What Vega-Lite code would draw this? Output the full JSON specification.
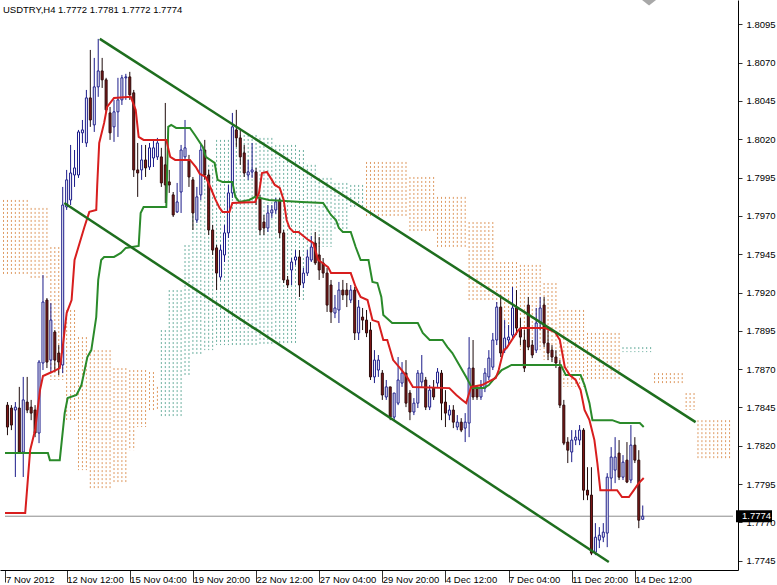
{
"$schema":"https://vega.github.io/schema/vega-lite/v6.json",
"width":738,"height":570,
"autosize":{"type":"none"},
"padding":{"left":0,"top":0,"right":39,"bottom":15},
"background":"white",
"config":{"view":{"stroke":null},"font":"Liberation Sans",
 "axisX":{"grid":false,"domainColor":"black","domainWidth":1,"tickColor":"#333333","tickSize":12,"labelAlign":"left","labelBaseline":"middle","labelPadding":-2.5,"labelDx":2,"labelFontSize":9.5,"labelFont":"Liberation Sans","labelColor":"black","labelFlush":false,"labelOverlap":false,"labelBound":false},
 "axisY":{"grid":false,"domainColor":"black","domainWidth":1,"tickColor":"#333333","tickSize":4,"labelPadding":4,"labelFontSize":9.5,"labelFont":"Liberation Sans","labelColor":"black","labelOverlap":false,"labelBound":false,"labelFlush":false}},
"title":{"text":"USDTRY,H4  1.7772 1.7781 1.7772 1.7774","anchor":"start","frame":"group","offset":-14,"fontSize":9.5,"fontWeight":"normal","font":"Liberation Sans","color":"black","dx":3},
"datasets":{
"candles":[
{"t":0,"o":1.78465,"h":1.78485,"l":1.78269,"c":1.78322},
{"t":1,"o":1.78446,"h":1.78465,"l":1.78302,"c":1.78335},
{"t":2,"o":1.78433,"h":1.78485,"l":1.77996,"c":1.78452},
{"t":3,"o":1.78446,"h":1.78584,"l":1.78152,"c":1.78159},
{"t":4,"o":1.78159,"h":1.78649,"l":1.77996,"c":1.78499},
{"t":5,"o":1.78485,"h":1.78649,"l":1.78413,"c":1.78433},
{"t":6,"o":1.78452,"h":1.78499,"l":1.78367,"c":1.78413},
{"t":7,"o":1.78433,"h":1.78465,"l":1.78256,"c":1.78283},
{"t":8,"o":1.78283,"h":1.78759,"l":1.78217,"c":1.78746},
{"t":9,"o":1.78740,"h":1.79314,"l":1.78694,"c":1.79138},
{"t":10,"o":1.79151,"h":1.79164,"l":1.78707,"c":1.78746},
{"t":11,"o":1.78759,"h":1.79131,"l":1.78681,"c":1.79020},
{"t":12,"o":1.78942,"h":1.78955,"l":1.78681,"c":1.78759},
{"t":13,"o":1.78805,"h":1.78857,"l":1.78661,"c":1.78746},
{"t":14,"o":1.78727,"h":1.79889,"l":1.78674,"c":1.79771},
{"t":15,"o":1.79758,"h":1.80000,"l":1.79739,"c":1.79935},
{"t":16,"o":1.79804,"h":1.80163,"l":1.79771,"c":1.79980},
{"t":17,"o":1.79967,"h":1.80130,"l":1.79889,"c":1.80013},
{"t":18,"o":1.79967,"h":1.80261,"l":1.79948,"c":1.80248},
{"t":19,"o":1.80242,"h":1.80326,"l":1.80176,"c":1.80261},
{"t":20,"o":1.80176,"h":1.80522,"l":1.80150,"c":1.80470},
{"t":21,"o":1.80470,"h":1.80783,"l":1.80281,"c":1.80326},
{"t":22,"o":1.80294,"h":1.80731,"l":1.80248,"c":1.80542},
{"t":23,"o":1.80542,"h":1.80855,"l":1.80477,"c":1.80646},
{"t":24,"o":1.80646,"h":1.80731,"l":1.80535,"c":1.80588},
{"t":25,"o":1.80588,"h":1.80601,"l":1.80372,"c":1.80392},
{"t":26,"o":1.80372,"h":1.80411,"l":1.80196,"c":1.80242},
{"t":27,"o":1.80281,"h":1.80457,"l":1.80183,"c":1.80379},
{"t":28,"o":1.80379,"h":1.80601,"l":1.80215,"c":1.80457},
{"t":29,"o":1.80457,"h":1.80620,"l":1.80424,"c":1.80601},
{"t":30,"o":1.80601,"h":1.80627,"l":1.80457,"c":1.80607},
{"t":31,"o":1.80607,"h":1.80640,"l":1.80457,"c":1.80490},
{"t":32,"o":1.80503,"h":1.80522,"l":1.79954,"c":1.80000},
{"t":33,"o":1.80000,"h":1.80176,"l":1.79824,"c":1.79980},
{"t":34,"o":1.80000,"h":1.80163,"l":1.79935,"c":1.80065},
{"t":35,"o":1.80065,"h":1.80163,"l":1.79954,"c":1.80013},
{"t":36,"o":1.80019,"h":1.80176,"l":1.80000,"c":1.80144},
{"t":37,"o":1.80078,"h":1.80196,"l":1.80019,"c":1.80144},
{"t":38,"o":1.80085,"h":1.80209,"l":1.80065,"c":1.80176},
{"t":39,"o":1.80085,"h":1.80144,"l":1.79889,"c":1.79915},
{"t":40,"o":1.80033,"h":1.80437,"l":1.79784,"c":1.79902},
{"t":41,"o":1.79922,"h":1.80000,"l":1.79850,"c":1.79902},
{"t":42,"o":1.79837,"h":1.79856,"l":1.79693,"c":1.79706},
{"t":43,"o":1.79726,"h":1.79915,"l":1.79719,"c":1.79791},
{"t":44,"o":1.79856,"h":1.80163,"l":1.79719,"c":1.80130},
{"t":45,"o":1.80085,"h":1.80326,"l":1.80065,"c":1.80144},
{"t":46,"o":1.80065,"h":1.80098,"l":1.79889,"c":1.79954},
{"t":47,"o":1.79935,"h":1.79954,"l":1.79608,"c":1.79719},
{"t":48,"o":1.79673,"h":1.79889,"l":1.79654,"c":1.79824},
{"t":49,"o":1.79837,"h":1.80163,"l":1.79804,"c":1.80130},
{"t":50,"o":1.80130,"h":1.80196,"l":1.79935,"c":1.79967},
{"t":51,"o":1.79967,"h":1.80000,"l":1.79575,"c":1.79608},
{"t":52,"o":1.79608,"h":1.79641,"l":1.79445,"c":1.79477},
{"t":53,"o":1.79491,"h":1.79510,"l":1.79216,"c":1.79327},
{"t":54,"o":1.79301,"h":1.79510,"l":1.79282,"c":1.79477},
{"t":55,"o":1.79445,"h":1.79641,"l":1.79399,"c":1.79589},
{"t":56,"o":1.79589,"h":1.79902,"l":1.79556,"c":1.79850},
{"t":57,"o":1.79850,"h":1.80372,"l":1.79817,"c":1.80281},
{"t":58,"o":1.80261,"h":1.80392,"l":1.80150,"c":1.80209},
{"t":59,"o":1.80209,"h":1.80261,"l":1.80033,"c":1.80085},
{"t":60,"o":1.80111,"h":1.80163,"l":1.79954,"c":1.79980},
{"t":61,"o":1.79967,"h":1.80065,"l":1.79935,"c":1.79987},
{"t":62,"o":1.79987,"h":1.80176,"l":1.79948,"c":1.80000},
{"t":63,"o":1.79987,"h":1.80013,"l":1.79771,"c":1.79817},
{"t":64,"o":1.79817,"h":1.79837,"l":1.79575,"c":1.79608},
{"t":65,"o":1.79660,"h":1.79706,"l":1.79575,"c":1.79621},
{"t":66,"o":1.79621,"h":1.79771,"l":1.79595,"c":1.79719},
{"t":67,"o":1.79719,"h":1.79771,"l":1.79686,"c":1.79739},
{"t":68,"o":1.79739,"h":1.79817,"l":1.79713,"c":1.79791},
{"t":69,"o":1.79804,"h":1.79817,"l":1.79556,"c":1.79589},
{"t":70,"o":1.79589,"h":1.79608,"l":1.79262,"c":1.79282},
{"t":71,"o":1.79282,"h":1.79308,"l":1.79229,"c":1.79249},
{"t":72,"o":1.79347,"h":1.79425,"l":1.79249,"c":1.79399},
{"t":73,"o":1.79412,"h":1.79477,"l":1.79380,"c":1.79432},
{"t":74,"o":1.79432,"h":1.79477,"l":1.79171,"c":1.79249},
{"t":75,"o":1.79262,"h":1.79360,"l":1.79229,"c":1.79327},
{"t":76,"o":1.79327,"h":1.79477,"l":1.79308,"c":1.79432},
{"t":77,"o":1.79412,"h":1.79569,"l":1.79399,"c":1.79497},
{"t":78,"o":1.79523,"h":1.79595,"l":1.79380,"c":1.79393},
{"t":79,"o":1.79445,"h":1.79562,"l":1.79282,"c":1.79347},
{"t":80,"o":1.79393,"h":1.79425,"l":1.79295,"c":1.79327},
{"t":81,"o":1.79327,"h":1.79360,"l":1.79073,"c":1.79118},
{"t":82,"o":1.79249,"h":1.79282,"l":1.79001,"c":1.79073},
{"t":83,"o":1.79066,"h":1.79184,"l":1.79033,"c":1.79099},
{"t":84,"o":1.79086,"h":1.79269,"l":1.79001,"c":1.79216},
{"t":85,"o":1.79216,"h":1.79282,"l":1.79151,"c":1.79184},
{"t":86,"o":1.79216,"h":1.79262,"l":1.79105,"c":1.79184},
{"t":87,"o":1.79151,"h":1.79249,"l":1.79131,"c":1.79216},
{"t":88,"o":1.79216,"h":1.79236,"l":1.78890,"c":1.78936},
{"t":89,"o":1.78936,"h":1.79151,"l":1.78890,"c":1.79105},
{"t":90,"o":1.79040,"h":1.79099,"l":1.78955,"c":1.79020},
{"t":91,"o":1.79020,"h":1.79086,"l":1.78909,"c":1.78936},
{"t":92,"o":1.78955,"h":1.79007,"l":1.78629,"c":1.78649},
{"t":93,"o":1.78649,"h":1.78824,"l":1.78609,"c":1.78759},
{"t":94,"o":1.78694,"h":1.78792,"l":1.78649,"c":1.78759},
{"t":95,"o":1.78674,"h":1.78694,"l":1.78499,"c":1.78531},
{"t":96,"o":1.78518,"h":1.78629,"l":1.78499,"c":1.78584},
{"t":97,"o":1.78584,"h":1.78584,"l":1.78367,"c":1.78387},
{"t":98,"o":1.78387,"h":1.78544,"l":1.78367,"c":1.78544},
{"t":99,"o":1.78478,"h":1.78779,"l":1.78465,"c":1.78629},
{"t":100,"o":1.78609,"h":1.78746,"l":1.78584,"c":1.78674},
{"t":101,"o":1.78674,"h":1.78759,"l":1.78452,"c":1.78478},
{"t":102,"o":1.78544,"h":1.78563,"l":1.78367,"c":1.78420},
{"t":103,"o":1.78420,"h":1.78511,"l":1.78400,"c":1.78478},
{"t":104,"o":1.78478,"h":1.78694,"l":1.78446,"c":1.78674},
{"t":105,"o":1.78616,"h":1.78792,"l":1.78584,"c":1.78674},
{"t":106,"o":1.78629,"h":1.78649,"l":1.78433,"c":1.78452},
{"t":107,"o":1.78452,"h":1.78596,"l":1.78433,"c":1.78563},
{"t":108,"o":1.78576,"h":1.78629,"l":1.78499,"c":1.78518},
{"t":109,"o":1.78609,"h":1.78707,"l":1.78584,"c":1.78681},
{"t":110,"o":1.78674,"h":1.78694,"l":1.78367,"c":1.78478},
{"t":111,"o":1.78485,"h":1.78563,"l":1.78322,"c":1.78413},
{"t":112,"o":1.78400,"h":1.78465,"l":1.78367,"c":1.78433},
{"t":113,"o":1.78433,"h":1.78465,"l":1.78315,"c":1.78354},
{"t":114,"o":1.78322,"h":1.78400,"l":1.78302,"c":1.78354},
{"t":115,"o":1.78354,"h":1.78380,"l":1.78289,"c":1.78302},
{"t":116,"o":1.78315,"h":1.78413,"l":1.78224,"c":1.78354},
{"t":117,"o":1.78348,"h":1.78909,"l":1.78256,"c":1.78707},
{"t":118,"o":1.78707,"h":1.78890,"l":1.78499,"c":1.78518},
{"t":119,"o":1.78576,"h":1.78596,"l":1.78499,"c":1.78518},
{"t":120,"o":1.78518,"h":1.78629,"l":1.78499,"c":1.78584},
{"t":121,"o":1.78576,"h":1.78707,"l":1.78550,"c":1.78674},
{"t":122,"o":1.78649,"h":1.78824,"l":1.78629,"c":1.78772},
{"t":123,"o":1.78713,"h":1.78936,"l":1.78694,"c":1.78890},
{"t":124,"o":1.78890,"h":1.79138,"l":1.78857,"c":1.79105},
{"t":125,"o":1.79105,"h":1.79184,"l":1.78779,"c":1.78805},
{"t":126,"o":1.78824,"h":1.79020,"l":1.78805,"c":1.78903},
{"t":127,"o":1.78890,"h":1.78988,"l":1.78857,"c":1.78909},
{"t":128,"o":1.78922,"h":1.79236,"l":1.78903,"c":1.79099},
{"t":129,"o":1.79099,"h":1.79216,"l":1.78922,"c":1.78968},
{"t":130,"o":1.78968,"h":1.79033,"l":1.78857,"c":1.78909},
{"t":131,"o":1.78890,"h":1.78955,"l":1.78681,"c":1.78707},
{"t":132,"o":1.79118,"h":1.79171,"l":1.78824,"c":1.78844},
{"t":133,"o":1.78857,"h":1.78890,"l":1.78772,"c":1.78792},
{"t":134,"o":1.78824,"h":1.79099,"l":1.78805,"c":1.79001},
{"t":135,"o":1.79001,"h":1.79171,"l":1.78955,"c":1.79099},
{"t":136,"o":1.79118,"h":1.79171,"l":1.78844,"c":1.78870},
{"t":137,"o":1.78870,"h":1.78955,"l":1.78759,"c":1.78805},
{"t":138,"o":1.78824,"h":1.78857,"l":1.78746,"c":1.78779},
{"t":139,"o":1.78779,"h":1.78824,"l":1.78707,"c":1.78740},
{"t":140,"o":1.78713,"h":1.78759,"l":1.78446,"c":1.78465},
{"t":141,"o":1.78465,"h":1.78499,"l":1.78204,"c":1.78217},
{"t":142,"o":1.78224,"h":1.78256,"l":1.78087,"c":1.78171},
{"t":143,"o":1.78159,"h":1.78302,"l":1.78093,"c":1.78237},
{"t":144,"o":1.78237,"h":1.78302,"l":1.78204,"c":1.78256},
{"t":145,"o":1.78237,"h":1.78335,"l":1.78204,"c":1.78302},
{"t":146,"o":1.78302,"h":1.78315,"l":1.77845,"c":1.77910},
{"t":147,"o":1.77910,"h":1.78060,"l":1.77845,"c":1.77878},
{"t":148,"o":1.77878,"h":1.78060,"l":1.77486,"c":1.77499},
{"t":149,"o":1.77505,"h":1.77695,"l":1.77486,"c":1.77603},
{"t":150,"o":1.77584,"h":1.77669,"l":1.77532,"c":1.77616},
{"t":151,"o":1.77603,"h":1.77695,"l":1.77571,"c":1.77636},
{"t":152,"o":1.77630,"h":1.78021,"l":1.77538,"c":1.77995},
{"t":153,"o":1.77989,"h":1.78191,"l":1.77910,"c":1.78126},
{"t":154,"o":1.78041,"h":1.78256,"l":1.77956,"c":1.78126},
{"t":155,"o":1.78152,"h":1.78237,"l":1.77976,"c":1.77995},
{"t":156,"o":1.77995,"h":1.78139,"l":1.77976,"c":1.78093},
{"t":157,"o":1.78106,"h":1.78224,"l":1.77956,"c":1.77963},
{"t":158,"o":1.77976,"h":1.78335,"l":1.77956,"c":1.78204},
{"t":159,"o":1.78204,"h":1.78256,"l":1.78087,"c":1.78106},
{"t":160,"o":1.78106,"h":1.78171,"l":1.77662,"c":1.77714},
{"t":161,"o":1.7772,"h":1.7781,"l":1.7772,"c":1.7774}
],
"cloud":[
{"t":-1,"a":1.79804,"b":1.79321,"k":"o"},{"t":0,"a":1.79804,"b":1.79321,"k":"o"},{"t":1,"a":1.79804,"b":1.79321,"k":"o"},{"t":2,"a":1.79804,"b":1.79321,"k":"o"},{"t":3,"a":1.79804,"b":1.79321,"k":"o"},{"t":4,"a":1.79804,"b":1.79321,"k":"o"},{"t":5,"a":1.79804,"b":1.79321,"k":"o"},
{"t":6,"a":1.79752,"b":1.79295,"k":"o"},{"t":7,"a":1.79752,"b":1.79295,"k":"o"},{"t":8,"a":1.79752,"b":1.79295,"k":"o"},{"t":9,"a":1.79752,"b":1.79295,"k":"o"},{"t":10,"a":1.79752,"b":1.79295,"k":"o"},
{"t":11,"a":1.79497,"b":1.78629,"k":"o"},{"t":12,"a":1.79497,"b":1.78629,"k":"o"},{"t":13,"a":1.79497,"b":1.78629,"k":"o"},{"t":14,"a":1.79497,"b":1.78629,"k":"o"},
{"t":15,"a":1.79086,"b":1.78367,"k":"o"},{"t":16,"a":1.79086,"b":1.78367,"k":"o"},{"t":17,"a":1.79086,"b":1.78367,"k":"o"},
{"t":18,"a":1.78909,"b":1.78041,"k":"o"},{"t":19,"a":1.78909,"b":1.78041,"k":"o"},{"t":20,"a":1.78909,"b":1.78041,"k":"o"},
{"t":21,"a":1.78824,"b":1.77923,"k":"o"},{"t":22,"a":1.78824,"b":1.77923,"k":"o"},{"t":23,"a":1.78824,"b":1.77923,"k":"o"},{"t":24,"a":1.78824,"b":1.77923,"k":"o"},{"t":25,"a":1.78824,"b":1.77923,"k":"o"},{"t":26,"a":1.78824,"b":1.77923,"k":"o"},
{"t":27,"a":1.78707,"b":1.77956,"k":"o"},{"t":28,"a":1.78707,"b":1.77956,"k":"o"},{"t":29,"a":1.78707,"b":1.77956,"k":"o"},{"t":30,"a":1.78707,"b":1.77956,"k":"o"},
{"t":31,"a":1.78694,"b":1.78171,"k":"o"},{"t":32,"a":1.78694,"b":1.78171,"k":"o"},
{"t":33,"a":1.78694,"b":1.78322,"k":"o"},{"t":34,"a":1.78694,"b":1.78322,"k":"o"},{"t":35,"a":1.78694,"b":1.78322,"k":"o"},
{"t":36,"a":1.78681,"b":1.78420,"k":"o"},{"t":37,"a":1.78681,"b":1.78420,"k":"o"},
{"t":38,"a":1.78584,"b":1.78433,"k":"o"},
{"t":39,"a":1.78955,"b":1.78387,"k":"g"},{"t":40,"a":1.78955,"b":1.78387,"k":"g"},
{"t":41,"a":1.79216,"b":1.78387,"k":"g"},{"t":42,"a":1.79216,"b":1.78387,"k":"g"},{"t":43,"a":1.79216,"b":1.78387,"k":"g"},{"t":44,"a":1.79216,"b":1.78387,"k":"g"},
{"t":45,"a":1.79510,"b":1.78661,"k":"g"},{"t":46,"a":1.79510,"b":1.78661,"k":"g"},
{"t":47,"a":1.79804,"b":1.78792,"k":"g"},{"t":48,"a":1.79804,"b":1.78792,"k":"g"},{"t":49,"a":1.79804,"b":1.78792,"k":"g"},
{"t":50,"a":1.80033,"b":1.78824,"k":"g"},{"t":51,"a":1.80033,"b":1.78824,"k":"g"},{"t":52,"a":1.80033,"b":1.78824,"k":"g"},
{"t":53,"a":1.80196,"b":1.78857,"k":"g"},{"t":54,"a":1.80196,"b":1.78857,"k":"g"},{"t":55,"a":1.80196,"b":1.78857,"k":"g"},{"t":56,"a":1.80196,"b":1.78857,"k":"g"},
{"t":57,"a":1.80228,"b":1.78857,"k":"g"},{"t":58,"a":1.80228,"b":1.78857,"k":"g"},{"t":59,"a":1.80228,"b":1.78857,"k":"g"},{"t":60,"a":1.80228,"b":1.78857,"k":"g"},{"t":61,"a":1.80228,"b":1.78857,"k":"g"},{"t":62,"a":1.80228,"b":1.78857,"k":"g"},{"t":63,"a":1.80228,"b":1.78857,"k":"g"},
{"t":64,"a":1.80209,"b":1.78857,"k":"g"},{"t":65,"a":1.80209,"b":1.78857,"k":"g"},{"t":66,"a":1.80209,"b":1.78857,"k":"g"},{"t":67,"a":1.80209,"b":1.78857,"k":"g"},
{"t":68,"a":1.80163,"b":1.78870,"k":"g"},{"t":69,"a":1.80163,"b":1.78870,"k":"g"},{"t":70,"a":1.80163,"b":1.78870,"k":"g"},{"t":71,"a":1.80163,"b":1.78870,"k":"g"},{"t":72,"a":1.80163,"b":1.78870,"k":"g"},{"t":73,"a":1.80163,"b":1.78870,"k":"g"},
{"t":74,"a":1.80130,"b":1.79151,"k":"g"},{"t":75,"a":1.80130,"b":1.79151,"k":"g"},
{"t":76,"a":1.80033,"b":1.79412,"k":"g"},{"t":77,"a":1.80033,"b":1.79412,"k":"g"},{"t":78,"a":1.80033,"b":1.79412,"k":"g"},
{"t":79,"a":1.79948,"b":1.79497,"k":"g"},{"t":80,"a":1.79948,"b":1.79497,"k":"g"},{"t":81,"a":1.79948,"b":1.79497,"k":"g"},{"t":82,"a":1.79948,"b":1.79497,"k":"g"},
{"t":83,"a":1.79915,"b":1.79608,"k":"g"},{"t":84,"a":1.79915,"b":1.79608,"k":"g"},{"t":85,"a":1.79915,"b":1.79608,"k":"g"},{"t":86,"a":1.79915,"b":1.79608,"k":"g"},
{"t":87,"a":1.79902,"b":1.79758,"k":"g"},{"t":88,"a":1.79902,"b":1.79758,"k":"g"},{"t":89,"a":1.79902,"b":1.79758,"k":"g"},{"t":90,"a":1.79902,"b":1.79758,"k":"g"},
{"t":91,"a":1.80052,"b":1.79693,"k":"o"},{"t":92,"a":1.80052,"b":1.79693,"k":"o"},{"t":93,"a":1.80052,"b":1.79693,"k":"o"},{"t":94,"a":1.80052,"b":1.79693,"k":"o"},{"t":95,"a":1.80052,"b":1.79693,"k":"o"},{"t":96,"a":1.80052,"b":1.79693,"k":"o"},{"t":97,"a":1.80052,"b":1.79693,"k":"o"},{"t":98,"a":1.80052,"b":1.79693,"k":"o"},{"t":99,"a":1.80052,"b":1.79693,"k":"o"},{"t":100,"a":1.80052,"b":1.79693,"k":"o"},{"t":101,"a":1.80052,"b":1.79693,"k":"o"},
{"t":102,"a":1.79954,"b":1.79589,"k":"o"},{"t":103,"a":1.79954,"b":1.79589,"k":"o"},{"t":104,"a":1.79954,"b":1.79589,"k":"o"},{"t":105,"a":1.79954,"b":1.79589,"k":"o"},{"t":106,"a":1.79954,"b":1.79589,"k":"o"},{"t":107,"a":1.79954,"b":1.79589,"k":"o"},{"t":108,"a":1.79954,"b":1.79589,"k":"o"},
{"t":109,"a":1.79824,"b":1.79497,"k":"o"},{"t":110,"a":1.79824,"b":1.79497,"k":"o"},{"t":111,"a":1.79824,"b":1.79497,"k":"o"},{"t":112,"a":1.79824,"b":1.79497,"k":"o"},{"t":113,"a":1.79824,"b":1.79497,"k":"o"},{"t":114,"a":1.79824,"b":1.79497,"k":"o"},{"t":115,"a":1.79824,"b":1.79497,"k":"o"},{"t":116,"a":1.79824,"b":1.79497,"k":"o"},
{"t":117,"a":1.79660,"b":1.79151,"k":"o"},{"t":118,"a":1.79660,"b":1.79151,"k":"o"},{"t":119,"a":1.79660,"b":1.79151,"k":"o"},{"t":120,"a":1.79660,"b":1.79151,"k":"o"},{"t":121,"a":1.79660,"b":1.79151,"k":"o"},{"t":122,"a":1.79660,"b":1.79151,"k":"o"},{"t":123,"a":1.79660,"b":1.79151,"k":"o"},
{"t":124,"a":1.79399,"b":1.78955,"k":"o"},{"t":125,"a":1.79399,"b":1.78955,"k":"o"},{"t":126,"a":1.79399,"b":1.78955,"k":"o"},{"t":127,"a":1.79399,"b":1.78955,"k":"o"},{"t":128,"a":1.79399,"b":1.78955,"k":"o"},{"t":129,"a":1.79399,"b":1.78955,"k":"o"},
{"t":130,"a":1.79380,"b":1.78824,"k":"o"},{"t":131,"a":1.79380,"b":1.78824,"k":"o"},{"t":132,"a":1.79380,"b":1.78824,"k":"o"},{"t":133,"a":1.79380,"b":1.78824,"k":"o"},{"t":134,"a":1.79380,"b":1.78824,"k":"o"},{"t":135,"a":1.79380,"b":1.78824,"k":"o"},
{"t":136,"a":1.79262,"b":1.78759,"k":"o"},{"t":137,"a":1.79262,"b":1.78759,"k":"o"},{"t":138,"a":1.79262,"b":1.78759,"k":"o"},{"t":139,"a":1.79262,"b":1.78759,"k":"o"},
{"t":140,"a":1.79086,"b":1.78584,"k":"o"},{"t":141,"a":1.79086,"b":1.78584,"k":"o"},{"t":142,"a":1.79086,"b":1.78584,"k":"o"},{"t":143,"a":1.79086,"b":1.78584,"k":"o"},{"t":144,"a":1.79086,"b":1.78584,"k":"o"},{"t":145,"a":1.79086,"b":1.78584,"k":"o"},{"t":146,"a":1.79086,"b":1.78584,"k":"o"},
{"t":147,"a":1.78936,"b":1.78629,"k":"o"},{"t":148,"a":1.78936,"b":1.78629,"k":"o"},{"t":149,"a":1.78936,"b":1.78629,"k":"o"},{"t":150,"a":1.78936,"b":1.78629,"k":"o"},{"t":151,"a":1.78936,"b":1.78629,"k":"o"},{"t":152,"a":1.78936,"b":1.78629,"k":"o"},{"t":153,"a":1.78936,"b":1.78629,"k":"o"},{"t":154,"a":1.78936,"b":1.78629,"k":"o"},{"t":155,"a":1.78936,"b":1.78629,"k":"o"},
{"t":156,"a":1.78844,"b":1.78811,"k":"g"},{"t":157,"a":1.78844,"b":1.78811,"k":"g"},{"t":158,"a":1.78844,"b":1.78811,"k":"g"},{"t":159,"a":1.78844,"b":1.78811,"k":"g"},{"t":160,"a":1.78844,"b":1.78811,"k":"g"},{"t":161,"a":1.78844,"b":1.78811,"k":"g"},{"t":162,"a":1.78844,"b":1.78811,"k":"g"},{"t":163,"a":1.78844,"b":1.78811,"k":"g"},
{"t":164,"a":1.78674,"b":1.78609,"k":"o"},{"t":165,"a":1.78674,"b":1.78609,"k":"o"},{"t":166,"a":1.78674,"b":1.78609,"k":"o"},{"t":167,"a":1.78674,"b":1.78609,"k":"o"},{"t":168,"a":1.78674,"b":1.78609,"k":"o"},{"t":169,"a":1.78674,"b":1.78609,"k":"o"},{"t":170,"a":1.78674,"b":1.78609,"k":"o"},{"t":171,"a":1.78674,"b":1.78609,"k":"o"},
{"t":172,"a":1.78544,"b":1.78433,"k":"o"},{"t":173,"a":1.78544,"b":1.78433,"k":"o"},{"t":174,"a":1.78544,"b":1.78433,"k":"o"},
{"t":175,"a":1.78367,"b":1.78119,"k":"o"},{"t":176,"a":1.78367,"b":1.78119,"k":"o"},{"t":177,"a":1.78367,"b":1.78119,"k":"o"},{"t":178,"a":1.78367,"b":1.78119,"k":"o"},{"t":179,"a":1.78367,"b":1.78119,"k":"o"},{"t":180,"a":1.78367,"b":1.78119,"k":"o"},{"t":181,"a":1.78367,"b":1.78119,"k":"o"},{"t":182,"a":1.78367,"b":1.78119,"k":"o"},{"t":183,"a":1.78367,"b":1.78119,"k":"o"}
],
"tenkan":[
{"t":-0.625,"p":1.77761},{"t":4.5,"p":1.77761},{"t":5.75,"p":1.78171},{"t":7,"p":1.78302},{"t":8.25,"p":1.78563},{"t":9,"p":1.78655},{"t":11.25,"p":1.78681},{"t":13.25,"p":1.78707},{"t":14,"p":1.78844},{"t":15,"p":1.79066},{"t":16.25,"p":1.79151},{"t":17,"p":1.79412},{"t":19.5,"p":1.79628},{"t":20.75,"p":1.79726},{"t":22.5,"p":1.79739},{"t":22.75,"p":1.79902},{"t":23.25,"p":1.80176},{"t":24.5,"p":1.80307},{"t":25.25,"p":1.80411},{"t":27,"p":1.80470},{"t":31.25,"p":1.80477},{"t":32.5,"p":1.80392},{"t":33.25,"p":1.80215},{"t":34.5,"p":1.80196},{"t":40.25,"p":1.80196},{"t":41.25,"p":1.80085},{"t":42.5,"p":1.80065},{"t":46.25,"p":1.80065},{"t":47.75,"p":1.80019},{"t":48.75,"p":1.79974},{"t":50.25,"p":1.79954},{"t":51.5,"p":1.79882},{"t":52.75,"p":1.79804},{"t":53.75,"p":1.79752},{"t":54.5,"p":1.79726},{"t":56.25,"p":1.79726},{"t":57,"p":1.79784},{"t":62.75,"p":1.79791},{"t":63.75,"p":1.79850},{"t":64.5,"p":1.79980},{"t":65.75,"p":1.79987},{"t":67,"p":1.79935},{"t":67.75,"p":1.79902},{"t":69,"p":1.79882},{"t":70,"p":1.79804},{"t":70.75,"p":1.79673},{"t":71.5,"p":1.79621},{"t":72.5,"p":1.79595},{"t":73.75,"p":1.79595},{"t":76.25,"p":1.79543},{"t":77.5,"p":1.79523},{"t":78.75,"p":1.79412},{"t":79.5,"p":1.79399},{"t":81.25,"p":1.79366},{"t":82,"p":1.79327},{"t":87,"p":1.79327},{"t":88.25,"p":1.79236},{"t":89.5,"p":1.79171},{"t":91.25,"p":1.79151},{"t":92.5,"p":1.79020},{"t":94,"p":1.79007},{"t":95.25,"p":1.78890},{"t":96.25,"p":1.78890},{"t":97.75,"p":1.78759},{"t":99.5,"p":1.78707},{"t":101.25,"p":1.78649},{"t":102.75,"p":1.78584},{"t":112,"p":1.78576},{"t":113.75,"p":1.78531},{"t":115.25,"p":1.78499},{"t":116.25,"p":1.78478},{"t":117.5,"p":1.78584},{"t":120.25,"p":1.78596},{"t":123.75,"p":1.78642},{"t":124.5,"p":1.78694},{"t":125.75,"p":1.78824},{"t":126.5,"p":1.78838},{"t":129.5,"p":1.78955},{"t":130.25,"p":1.78968},{"t":136.25,"p":1.78968},{"t":138.75,"p":1.78942},{"t":140,"p":1.78890},{"t":141.25,"p":1.78713},{"t":142.5,"p":1.78661},{"t":144,"p":1.78629},{"t":145.25,"p":1.78563},{"t":146.25,"p":1.78433},{"t":147.5,"p":1.78367},{"t":148.75,"p":1.78237},{"t":149.5,"p":1.78087},{"t":150.25,"p":1.77910},{"t":154.5,"p":1.77910},{"t":155.75,"p":1.77865},{"t":157.5,"p":1.77865},{"t":158.75,"p":1.77910},{"t":160,"p":1.77956},{"t":161.25,"p":1.77989}
],
"kijun":[
{"t":-0.625,"p":1.78152},{"t":10.25,"p":1.78152},{"t":10.75,"p":1.78106},{"t":13.25,"p":1.78106},{"t":14.5,"p":1.78413},{"t":15.25,"p":1.78511},{"t":17.5,"p":1.78531},{"t":18.75,"p":1.78596},{"t":20.25,"p":1.78779},{"t":21.25,"p":1.78824},{"t":22.5,"p":1.79040},{"t":23,"p":1.79282},{"t":23.75,"p":1.79412},{"t":24.5,"p":1.79432},{"t":27,"p":1.79432},{"t":28.75,"p":1.79458},{"t":30,"p":1.79491},{"t":33.25,"p":1.79504},{"t":33.75,"p":1.79719},{"t":34.5,"p":1.79758},{"t":40.25,"p":1.79758},{"t":40.75,"p":1.80281},{"t":41.5,"p":1.80294},{"t":42.75,"p":1.80274},{"t":46.25,"p":1.80274},{"t":47.5,"p":1.80228},{"t":49.5,"p":1.80150},{"t":50.25,"p":1.80085},{"t":52.5,"p":1.80046},{"t":53.25,"p":1.79935},{"t":54.5,"p":1.79922},{"t":57,"p":1.79922},{"t":57.75,"p":1.79824},{"t":58.75,"p":1.79791},{"t":61.25,"p":1.79804},{"t":62.75,"p":1.79824},{"t":66.25,"p":1.79804},{"t":74.5,"p":1.79791},{"t":80,"p":1.79784},{"t":82,"p":1.79706},{"t":83.25,"p":1.79673},{"t":84,"p":1.79621},{"t":85,"p":1.79595},{"t":87,"p":1.79595},{"t":88.25,"p":1.79497},{"t":89.5,"p":1.79412},{"t":91.5,"p":1.79412},{"t":92.5,"p":1.79269},{"t":93.75,"p":1.79262},{"t":94.75,"p":1.79171},{"t":95.25,"p":1.79053},{"t":97.5,"p":1.79001},{"t":104,"p":1.79001},{"t":105.25,"p":1.78936},{"t":107,"p":1.78890},{"t":110.25,"p":1.78890},{"t":111.5,"p":1.78844},{"t":112.75,"p":1.78805},{"t":114.5,"p":1.78727},{"t":116.25,"p":1.78649},{"t":117.75,"p":1.78576},{"t":120.75,"p":1.78576},{"t":122,"p":1.78596},{"t":123.75,"p":1.78649},{"t":125.25,"p":1.78694},{"t":127.75,"p":1.78727},{"t":140.25,"p":1.78727},{"t":141.5,"p":1.78661},{"t":145.25,"p":1.78661},{"t":146.25,"p":1.78596},{"t":147.5,"p":1.78478},{"t":148.25,"p":1.78367},{"t":153.25,"p":1.78367},{"t":155.25,"p":1.78348},{"t":160.25,"p":1.78348},{"t":161.25,"p":1.78322}
],
"channel":[
{"t":23.4,"p":1.80855,"s":"upper"},{"t":174.4,"p":1.78354,"s":"upper"},
{"t":14.4,"p":1.79784,"s":"lower"},{"t":152.4,"p":1.77441,"s":"lower"}
],
"bid":[{"t":-0.625,"p":1.7774},{"t":183.875,"p":1.7774}],
"last":[{"t":183.875,"p":1.7774,"s":"1.7774"}],
"shift":[{"t":162.6,"p":1.81109}]
},
"encoding":{
 "x":{"field":"t","type":"quantitative","scale":{"domain":[-0.625,183.875],"nice":false,"zero":false},
  "axis":{"values":[-0.5,15,31,47,63,79,95,111,127,143,159],"title":null,
   "labelExpr":"datum.value==15?'12 Nov 12:00':datum.value==31?'15 Nov 04:00':datum.value==47?'19 Nov 20:00':datum.value==63?'22 Nov 12:00':datum.value==79?'27 Nov 04:00':datum.value==95?'29 Nov 20:00':datum.value==111?'4 Dec 12:00':datum.value==127?'7 Dec 04:00':datum.value==143?'11 Dec 20:00':datum.value==159?'14 Dec 12:00':'7 Nov 2012'"}}
},
"layer":[
{"data":{"name":"cloud"},
 "mark":{"type":"rule","strokeDash":[2,2],"strokeWidth":1},
 "encoding":{
  "y":{"field":"a","type":"quantitative","scale":{"domain":[1.77389,1.81109],"nice":false,"zero":false},
   "axis":{"orient":"right","title":null,"format":".4f","values":[1.7745,1.777,1.7795,1.782,1.7845,1.787,1.7895,1.792,1.7945,1.797,1.7995,1.802,1.8045,1.807,1.8095]}},
  "y2":{"field":"b"},
  "stroke":{"condition":{"test":"datum.k == 'o'","value":"#de9a62"},"value":"#6db0a0"}
 }},
{"data":{"name":"bid"},
 "mark":{"type":"line","color":"#8c8c8c","strokeWidth":1},
 "encoding":{"y":{"field":"p","type":"quantitative","scale":{"domain":[1.77389,1.81109],"nice":false,"zero":false},
   "axis":{"orient":"right","title":null,"format":".4f","values":[1.7745,1.777,1.7795,1.782,1.7845,1.787,1.7895,1.792,1.7945,1.797,1.7995,1.802,1.8045,1.807,1.8095]}}}},
{"data":{"name":"candles"},
 "mark":{"type":"rule","strokeWidth":1},
 "encoding":{
  "y":{"field":"l","type":"quantitative","scale":{"domain":[1.77389,1.81109],"nice":false,"zero":false},
   "axis":{"orient":"right","title":null,"format":".4f","values":[1.7745,1.777,1.7795,1.782,1.7845,1.787,1.7895,1.792,1.7945,1.797,1.7995,1.802,1.8045,1.807,1.8095]}},
  "y2":{"field":"h"},
  "stroke":{"condition":{"test":"datum.c >= datum.o","value":"#1c1c8a"},"value":"#1e0c0c"}
 }},
{"data":{"name":"candles"},
 "mark":{"type":"bar","width":2,"strokeWidth":1},
 "encoding":{
  "y":{"field":"o","type":"quantitative","scale":{"domain":[1.77389,1.81109],"nice":false,"zero":false},
   "axis":{"orient":"right","title":null,"format":".4f","values":[1.7745,1.777,1.7795,1.782,1.7845,1.787,1.7895,1.792,1.7945,1.797,1.7995,1.802,1.8045,1.807,1.8095]}},
  "y2":{"field":"c"},
  "fill":{"condition":{"test":"datum.c >= datum.o","value":"#ffffff"},"value":"#801818"},
  "stroke":{"condition":{"test":"datum.c >= datum.o","value":"#1c1c8a"},"value":"#2e0c0c"}
 }},
{"data":{"name":"kijun"},
 "mark":{"type":"line","color":"#2a8a2a","strokeWidth":2},
 "encoding":{
  "y":{"field":"p","type":"quantitative","scale":{"domain":[1.77389,1.81109],"nice":false,"zero":false},
   "axis":{"orient":"right","title":null,"format":".4f","values":[1.7745,1.777,1.7795,1.782,1.7845,1.787,1.7895,1.792,1.7945,1.797,1.7995,1.802,1.8045,1.807,1.8095]}}
 }},
{"data":{"name":"tenkan"},
 "mark":{"type":"line","color":"#d81e1e","strokeWidth":2},
 "encoding":{
  "y":{"field":"p","type":"quantitative","scale":{"domain":[1.77389,1.81109],"nice":false,"zero":false},
   "axis":{"orient":"right","title":null,"format":".4f","values":[1.7745,1.777,1.7795,1.782,1.7845,1.787,1.7895,1.792,1.7945,1.797,1.7995,1.802,1.8045,1.807,1.8095]}}
 }},
{"data":{"name":"channel"},
 "mark":{"type":"line","color":"#1e6e1e","strokeWidth":2.5},
 "encoding":{
  "y":{"field":"p","type":"quantitative","scale":{"domain":[1.77389,1.81109],"nice":false,"zero":false},
   "axis":{"orient":"right","title":null,"format":".4f","values":[1.7745,1.777,1.7795,1.782,1.7845,1.787,1.7895,1.792,1.7945,1.797,1.7995,1.802,1.8045,1.807,1.8095]}},
  "detail":{"field":"s"}
 }},
{"data":{"name":"shift"},
 "mark":{"type":"point","shape":"M-1,0L1,0L0,0.8Z","size":196,"filled":true,"fill":"#a8a8a8","stroke":null,"opacity":1},
 "encoding":{
  "y":{"field":"p","type":"quantitative","scale":{"domain":[1.77389,1.81109],"nice":false,"zero":false},
   "axis":{"orient":"right","title":null,"format":".4f","values":[1.7745,1.777,1.7795,1.782,1.7845,1.787,1.7895,1.792,1.7945,1.797,1.7995,1.802,1.8045,1.807,1.8095]}}
 }},
{"data":{"name":"last"},
 "mark":{"type":"point","shape":"M0.3,-0.6H3.9V0.6H0.3Z","size":400,"filled":true,"fill":"black","stroke":null,"opacity":1},
 "encoding":{
  "y":{"field":"p","type":"quantitative","scale":{"domain":[1.77389,1.81109],"nice":false,"zero":false},
   "axis":{"orient":"right","title":null,"format":".4f","values":[1.7745,1.777,1.7795,1.782,1.7845,1.787,1.7895,1.792,1.7945,1.797,1.7995,1.802,1.8045,1.807,1.8095]}}
 }},
{"data":{"name":"last"},
 "mark":{"type":"text","align":"left","baseline":"middle","dx":9,"fontSize":9.5,"font":"Liberation Sans","color":"white"},
 "encoding":{
  "y":{"field":"p","type":"quantitative","scale":{"domain":[1.77389,1.81109],"nice":false,"zero":false},
   "axis":{"orient":"right","title":null,"format":".4f","values":[1.7745,1.777,1.7795,1.782,1.7845,1.787,1.7895,1.792,1.7945,1.797,1.7995,1.802,1.8045,1.807,1.8095]}},
  "text":{"field":"s"}
 }}
]
}
